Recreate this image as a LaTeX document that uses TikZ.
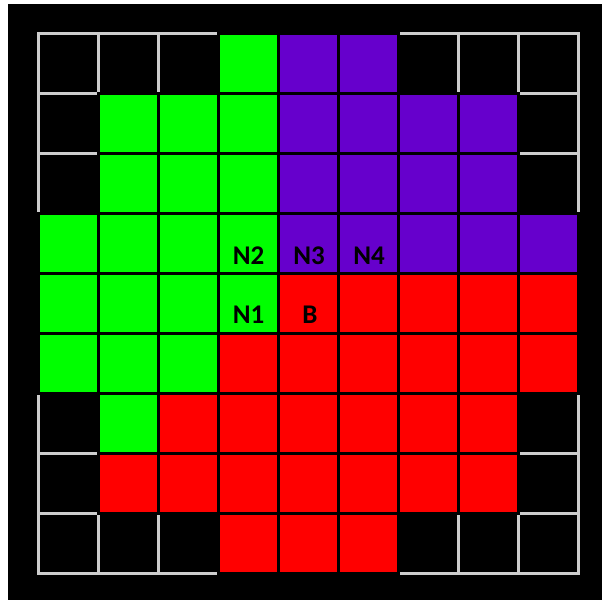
\documentclass[tikz,border=0pt]{standalone}
\usepackage{fontspec}
\setmainfont{Carlito}
\definecolor{gG}{RGB}{0,255,0}
\definecolor{pP}{RGB}{102,0,204}
\definecolor{rR}{RGB}{255,0,0}
\definecolor{gridgray}{RGB}{205,205,205}
\begin{document}
\begin{tikzpicture}[x=1pt,y=-1pt,
  emptycell/.style={draw=gridgray,line width=2.2pt},
  colcell/.style={draw=black,line width=2.4pt},
  lbl/.style={font=\bfseries\fontsize{27}{29}\selectfont,text=black,inner sep=0pt}]
\useasboundingbox (0,0) rectangle (602,600);
\fill[white] (0,0) rectangle (602,600);
\fill[black] (8,4) rectangle (602,600);
% empty (black) cells with gray grid
\foreach \r/\c in {0/0,0/1,0/2,0/6,0/7,0/8,1/0,1/8,2/0,2/8,6/0,6/8,7/0,7/8,8/0,8/1,8/2,8/6,8/7,8/8}{
  \draw[emptycell] ({38.5+60*\c},{33.5+60*\r}) rectangle ++(60,60);
}
% green
\foreach \r/\c in {0/3,1/1,1/2,1/3,2/1,2/2,2/3,3/0,3/1,3/2,3/3,4/0,4/1,4/2,4/3,5/0,5/1,5/2,6/1}{
  \draw[colcell,fill=gG] ({38.5+60*\c},{33.5+60*\r}) rectangle ++(60,60);
}
% purple
\foreach \r/\c in {0/4,0/5,1/4,1/5,1/6,1/7,2/4,2/5,2/6,2/7,3/4,3/5,3/6,3/7,3/8}{
  \draw[colcell,fill=pP] ({38.5+60*\c},{33.5+60*\r}) rectangle ++(60,60);
}
% red
\foreach \r/\c in {4/4,4/5,4/6,4/7,4/8,5/3,5/4,5/5,5/6,5/7,5/8,6/2,6/3,6/4,6/5,6/6,6/7,7/1,7/2,7/3,7/4,7/5,7/6,7/7,8/3,8/4,8/5}{
  \draw[colcell,fill=rR] ({38.5+60*\c},{33.5+60*\r}) rectangle ++(60,60);
}
\node[lbl] (n2) at (248.5,256) {N2};
\node[lbl] (n3) at (309,256) {N3};
\node[lbl] (n4) at (369,256) {N4};
\node[lbl] (n1) at (248.5,315) {N1};
\node[lbl] (b) at (310,315) {B};
\end{tikzpicture}
\end{document}
